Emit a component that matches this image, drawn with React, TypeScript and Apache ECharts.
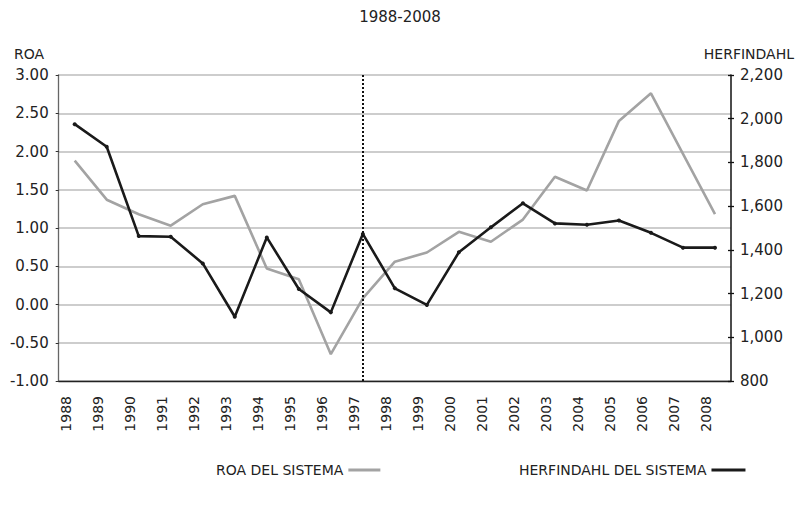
import React, { useEffect, useRef } from 'react';
import * as echarts from 'echarts';

const years = ['1988','1989','1990','1991','1992','1993','1994','1995','1996','1997','1998','1999','2000','2001','2002','2003','2004','2005','2006','2007','2008'];
const roaDelSistema = [1.88, 1.37, 1.18, 1.03, 1.31, 1.42, 0.47, 0.33, -0.65, 0.08, 0.56, 0.68, 0.95, 0.82, 1.11, 1.67, 1.49, 2.40, 2.76, 1.97, 1.18];
const herfindahlDelSistema = [1975, 1872, 1463, 1460, 1338, 1094, 1457, 1221, 1114, 1473, 1224, 1148, 1389, 1503, 1613, 1521, 1515, 1534, 1478, 1410, 1410];
const markerYear = '1997';
const titleText = '1988-2008';
const leftAxisTitle = 'ROA';
const rightAxisTitle = 'HERFINDAHL';
const roaName = 'ROA DEL SISTEMA';
const herfName = 'HERFINDAHL DEL SISTEMA';

const FONT = 'DejaVu Sans';
const TXT = '#222222';
const GRAY = '#a3a3a3';
const BLACK = '#1a1a1a';

export default function App() {
  const ref = useRef<HTMLDivElement>(null);
  useEffect(() => {
    const chart = echarts.init(ref.current!, null, { renderer: 'svg' });
    chart.setOption({
      animation: false,
      backgroundColor: '#ffffff',
      textStyle: { fontFamily: FONT, color: TXT },
      title: {
        text: titleText,
        left: 'center',
        top: 4,
        textStyle: { fontFamily: FONT, fontSize: 15, fontWeight: 'normal', color: TXT },
      },
      graphic: [
        { type: 'text', left: 14, top: 47, style: { text: leftAxisTitle, fontFamily: FONT, fontSize: 14, fill: TXT } },
        { type: 'text', right: 6, top: 47, style: { text: rightAxisTitle, fontFamily: FONT, fontSize: 14, fill: TXT } },
      ],
      legend: [
        {
          data: [roaName], left: 211, top: 458, align: 'right', icon: 'rect',
          itemWidth: 32, itemHeight: 3,
          textStyle: { fontFamily: FONT, fontSize: 14, color: TXT },
        },
        {
          data: [herfName], left: 514, top: 458, align: 'right', icon: 'rect',
          itemWidth: 34, itemHeight: 3,
          textStyle: { fontFamily: FONT, fontSize: 14, color: TXT },
        },
      ],
      grid: { left: 58.7, right: 69, top: 75, bottom: 126 },
      xAxis: {
        type: 'category',
        data: years,
        boundaryGap: true,
        axisLine: { onZero: false, lineStyle: { color: '#222', width: 1.3 } },
        axisTick: { length: 5, lineStyle: { color: '#222', width: 1.3 } },
        axisLabel: {
          rotate: 90, interval: 0, margin: 15, verticalAlign: 'bottom', lineHeight: 17,
          fontFamily: FONT, fontSize: 14, color: TXT,
        },
        splitLine: { show: false },
      },
      yAxis: [
        {
          type: 'value', min: -1, max: 3, interval: 0.5, position: 'left',
          axisLine: { show: true, lineStyle: { color: '#666', width: 1.3 } },
          axisTick: { show: true, length: 3, lineStyle: { color: '#333' } },
          axisLabel: { formatter: (v: number) => v.toFixed(2), margin: 10, fontFamily: FONT, fontSize: 15, color: TXT },
          splitLine: { show: true, lineStyle: { color: '#bdbdbd', width: 1.5 } },
        },
        {
          type: 'value', min: 800, max: 2200, interval: 200, position: 'right',
          axisLine: { show: true, lineStyle: { color: '#111', width: 1.5 } },
          axisTick: { show: true, length: 3, lineStyle: { color: '#111', width: 1.3 } },
          axisLabel: { formatter: (v: number) => v.toLocaleString('en-US'), margin: 9, fontFamily: FONT, fontSize: 15, color: TXT },
          splitLine: { show: false },
        },
        {
          type: 'value', min: 800, max: 2200, interval: 200, position: 'right',
          axisLine: { show: false },
          axisTick: { show: true, inside: true, length: 3, lineStyle: { color: '#111', width: 1.3 } },
          axisLabel: { show: false },
          splitLine: { show: false },
        },
      ],
      series: [
        {
          name: roaName, type: 'line', yAxisIndex: 0, data: roaDelSistema,
          symbol: 'none', showSymbol: false,
          lineStyle: { color: GRAY, width: 2.6 }, itemStyle: { color: GRAY },
          markLine: {
            silent: true, symbol: ['none', 'none'], label: { show: false },
            lineStyle: { type: 'dotted', color: '#111', width: 2 },
            data: [{ xAxis: markerYear }],
          },
        },
        {
          name: herfName, type: 'line', yAxisIndex: 1, data: herfindahlDelSistema,
          symbol: 'circle', symbolSize: 4, showSymbol: true,
          lineStyle: { color: BLACK, width: 2.6 }, itemStyle: { color: BLACK },
        },
      ],
    });
    return () => chart.dispose();
  }, []);
  return <div ref={ref} style={{ position: 'absolute', left: 0, top: 0, width: 800, height: 507 }} />;
}
